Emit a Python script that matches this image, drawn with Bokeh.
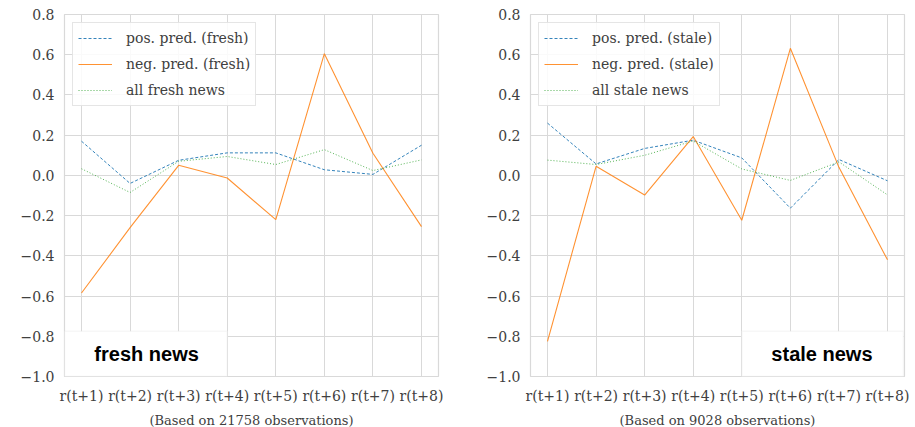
from bokeh.plotting import figure
from bokeh.layouts import row
from bokeh.models import Range1d, FixedTicker, BoxAnnotation, Label, Legend, LegendItem
from bokeh.embed import file_html
from bokeh.resources import INLINE

labels = ["r(t+1)", "r(t+2)", "r(t+3)", "r(t+4)", "r(t+5)", "r(t+6)", "r(t+7)", "r(t+8)"]
fresh_pos = [0.17, -0.04, 0.075, 0.112, 0.112, 0.028, 0.005, 0.15]
fresh_neg = [-0.585, -0.26, 0.05, -0.013, -0.22, 0.605, 0.11, -0.255]
fresh_all = [0.033, -0.085, 0.07, 0.094, 0.054, 0.128, 0.024, 0.077]
stale_pos = [0.26, 0.057, 0.134, 0.175, 0.087, -0.163, 0.079, -0.027]
stale_neg = [-0.825, 0.045, -0.098, 0.193, -0.223, 0.632, 0.04, -0.42]
stale_all = [0.076, 0.054, 0.1, 0.171, 0.032, -0.025, 0.067, -0.097]
y_ticks = [-1.0, -0.8, -0.6, -0.4, -0.2, 0.0, 0.2, 0.4, 0.6, 0.8]

SERIF = "DejaVu Serif"
GRID = "#d9d9d9"
TXT = "#404040"


def panel(pos, neg, allv, tag, allname, nobs, tagtext, box_l, box_r, text_x, bl, br):
    x = list(range(len(labels)))
    p = figure(frame_width=374, frame_height=362, output_backend="svg",
               toolbar_location=None, x_range=Range1d(-0.35, 7.35),
               y_range=Range1d(-1.0, 0.8), min_border_left=bl, min_border_right=br,
               min_border_top=14, min_border_bottom=51)
    p.background_fill_color = "white"
    p.outline_line_color = GRID
    p.outline_line_width = 1.2
    p.xaxis.ticker = FixedTicker(ticks=x)
    p.xaxis.major_label_overrides = {i: l for i, l in enumerate(labels)}
    p.yaxis.ticker = FixedTicker(ticks=y_ticks)
    p.yaxis.major_label_overrides = {t: ("%.1f" % t).replace("-", "\u2212") for t in y_ticks}
    for ax in (p.xaxis, p.yaxis):
        ax.axis_line_color = None
        ax.major_tick_line_color = None
        ax.minor_tick_line_color = None
        ax.major_label_text_font = SERIF
        ax.major_label_text_font_size = "14px"
        ax.major_label_text_color = TXT
    p.xaxis.major_label_standoff = 5
    p.yaxis.major_label_standoff = 4
    p.xaxis.axis_label = "(Based on %d observations)" % nobs
    p.xaxis.axis_label_text_font = SERIF
    p.xaxis.axis_label_text_font_size = "13px"
    p.xaxis.axis_label_text_font_style = "normal"
    p.xaxis.axis_label_text_color = TXT
    p.xaxis.axis_label_standoff = 6
    p.xgrid.grid_line_color = GRID
    p.ygrid.grid_line_color = GRID
    p.xgrid.grid_line_width = 1
    p.ygrid.grid_line_width = 1

    r1 = p.line(x, pos, line_color="#1f77b4", line_width=1, line_dash="3 2", line_alpha=0.9)
    r2 = p.line(x, neg, line_color="#ff7f0e", line_width=1.1, line_alpha=0.85)
    r3 = p.line(x, allv, line_color="#2ca02c", line_width=1, line_dash="1 2", line_alpha=0.8)

    legend = Legend(items=[LegendItem(label="pos. pred. (%s)" % tag, renderers=[r1]),
                           LegendItem(label="neg. pred. (%s)" % tag, renderers=[r2]),
                           LegendItem(label=allname, renderers=[r3])],
                    location="top_left")
    legend.label_text_font = SERIF
    legend.label_text_font_size = "14px"
    legend.label_text_color = TXT
    legend.glyph_width = 34
    legend.glyph_height = 20
    legend.label_height = 20
    legend.spacing = 6
    legend.padding = 5
    legend.margin = 8
    legend.label_standoff = 14
    legend.border_line_color = "#cccccc"
    legend.background_fill_color = "white"
    legend.background_fill_alpha = 0.85
    p.add_layout(legend)

    box = BoxAnnotation(left=box_l, right=box_r, bottom=-1.0, top=-0.775,
                        fill_color="white", fill_alpha=1.0,
                        line_color="#e6e6e6", line_width=1.5)
    p.add_layout(box)
    lab = Label(x=text_x, y=-0.89, text=tagtext, text_font="Liberation Sans",
                text_font_style="bold", text_font_size="20px", text_color="black",
                text_align="center", text_baseline="middle")
    p.add_layout(lab)
    return p


p1 = panel(fresh_pos, fresh_neg, fresh_all, "fresh", "all fresh news", 21758,
           "fresh news", -0.35, 3.0, 1.34, 64, 22)
p2 = panel(stale_pos, stale_neg, stale_all, "stale", "all stale news", 9028,
           "stale news", 4.0, 7.33, 5.65, 70, 11)
p = row(p1, p2)
open("out.html", "w").write(file_html(p, INLINE))
